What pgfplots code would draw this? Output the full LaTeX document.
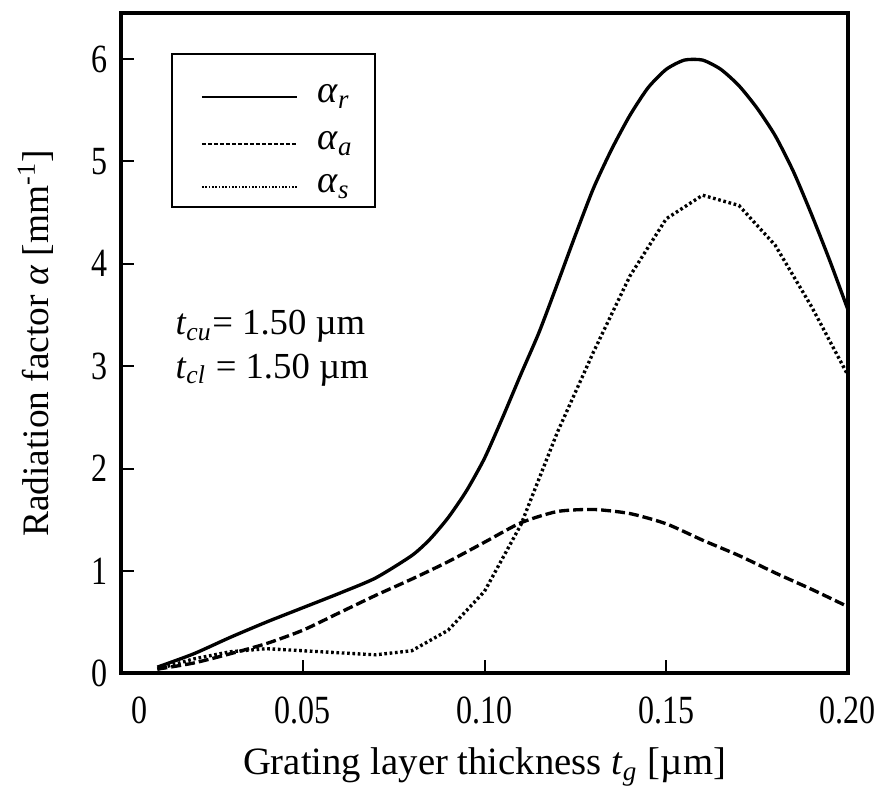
\documentclass[border=0pt]{standalone}
\usepackage{fontspec}
\setmainfont{Liberation Serif}
\newfontfamily\tickfont{Liberation Serif}[FakeStretch=0.8]
\usepackage{pgfplots}
\pgfplotsset{compat=1.18}
\usetikzlibrary{calc}

\pgfplotstableread{
x      ar
0.010  0.06
0.020  0.19
0.030  0.35
0.040  0.50
0.050  0.64
0.060  0.78
0.070  0.93
0.080  1.15
0.085  1.31
0.090  1.52
0.095  1.78
0.100  2.10
0.105  2.50
0.110  2.92
0.115  3.33
0.120  3.80
0.125  4.28
0.130  4.74
0.135  5.12
0.140  5.45
0.145  5.72
0.150  5.90
0.155  5.99
0.160  5.99
0.165  5.90
0.170  5.74
0.175  5.52
0.180  5.25
0.185  4.90
0.190  4.48
0.195  4.03
0.200  3.55
}\alphar

\pgfplotstableread{
x     aa
0.01  0.04
0.02  0.10
0.03  0.19
0.04  0.29
0.05  0.42
0.06  0.59
0.07  0.76
0.08  0.92
0.09  1.09
0.10  1.28
0.11  1.47
0.12  1.58
0.13  1.60
0.14  1.56
0.15  1.46
0.16  1.30
0.17  1.15
0.18  0.98
0.19  0.82
0.20  0.65
}\alphaa

\pgfplotstableread{
x     as
0.01  0.04
0.02  0.14
0.03  0.21
0.04  0.24
0.05  0.22
0.06  0.20
0.07  0.18
0.08  0.22
0.09  0.42
0.10  0.80
0.11  1.45
0.12  2.35
0.13  3.14
0.14  3.88
0.15  4.44
0.16  4.67
0.17  4.57
0.18  4.18
0.19  3.58
0.20  2.91
}\alphas

\begin{document}
\fontsize{11}{13}\selectfont
\begin{tikzpicture}
\begin{axis}[
  scale only axis, width=218pt, height=198pt,
  xmin=0, xmax=0.2, ymin=0, ymax=6.45,
  xtick={0,0.05,0.10,0.15,0.20},
  xticklabels={\hspace*{11pt}0,0.05,0.10,0.15,0.20},
  ytick={0,1,2,3,4,5,6},
  yticklabels={0,1,2,3,4,5,6},
  tick pos=left, tick align=inside,
  major tick length=4pt,
  tick style={line width=0.6pt, black},
  axis line style={line width=1.1pt},
  ticklabel style={font=\tickfont\fontsize{12}{14}\selectfont},
  xticklabel style={inner sep=0pt, yshift=-7pt},
  yticklabel style={inner sep=0pt, xshift=-4pt},
  xlabel={Grating layer thickness \textit{t}\textsubscript{\textit{g}} [µm]},
  ylabel={Radiation factor \textit{α} [mm\textsuperscript{-1}]},
  xlabel style={font=\fontsize{11.6}{13}\selectfont, inner sep=0pt,
    at={(axis description cs:0.5,-0.142)}, anchor=center},
  ylabel style={font=\fontsize{11.2}{13}\selectfont, inner sep=0pt,
    at={(axis description cs:-0.118,0.5)}, anchor=center},
]
\addplot[black, line width=1.0pt, smooth, tension=0.4] table[x=x, y=ar] {\alphar};
\addplot[black, line width=1.0pt, smooth, tension=0.4, dash pattern=on 3pt off 1.2pt] table[x=x, y=aa] {\alphaa};
\addplot[black, line width=1.0pt, dash pattern=on 0.8pt off 0.8pt] table[x=x, y=as] {\alphas};

% legend box, drawn by hand
\draw[line width=0.7pt] (axis cs:0.0140,6.05) rectangle (axis cs:0.0698,4.555);
\draw[line width=0.45pt] (axis cs:0.02225,5.63) -- (axis cs:0.04835,5.63);
\draw[line width=0.55pt, dash pattern=on 1.2pt off 0.6pt] (axis cs:0.02225,5.17) -- (axis cs:0.04835,5.17);
\draw[line width=0.45pt, dash pattern=on 0.5pt off 0.5pt] (axis cs:0.02225,4.75) -- (axis cs:0.04835,4.75);
\node[anchor=west, inner sep=0pt, font=\fontsize{11.5}{13}\selectfont] at (axis cs:0.0538,5.63) {\textit{α}\textsubscript{\textit{r}}};
\node[anchor=west, inner sep=0pt, font=\fontsize{11.5}{13}\selectfont] at (axis cs:0.0538,5.17) {\textit{α}\textsubscript{\textit{a}}};
\node[anchor=west, inner sep=0pt, font=\fontsize{11.5}{13}\selectfont] at (axis cs:0.0538,4.75) {\textit{α}\textsubscript{\textit{s}}};

\node[anchor=north west, align=left, inner sep=0pt, font=\fontsize{11}{13}\selectfont]
  at (axis cs:0.0148,3.55)
  {\textit{t}\textsubscript{\textit{cu}}= 1.50 µm\\[0pt]\textit{t}\textsubscript{\textit{cl}} = 1.50 µm};

\coordinate (bl) at (rel axis cs:0,0);
\coordinate (tr) at (rel axis cs:1,1);
\end{axis}
\pgfresetboundingbox
\path ($(bl)+(-36.3pt,-33.9pt)$) rectangle ($(tr)+(8.7pt,3.9pt)$);
\end{tikzpicture}
\end{document}
